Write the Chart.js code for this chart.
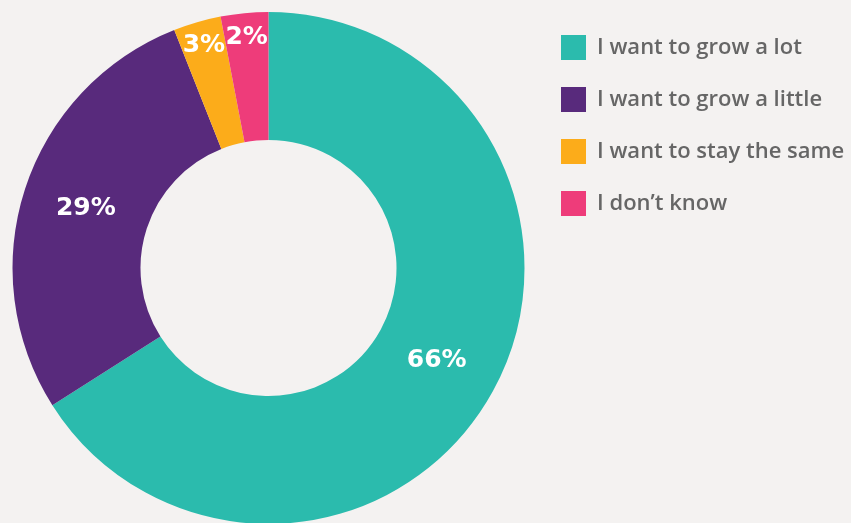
<!DOCTYPE html>
<html><head><meta charset="utf-8">
<script src="https://cdn.jsdelivr.net/npm/chart.js@4"></script>
<style>
html,body{margin:0;padding:0;background:#f4f2f1;overflow:hidden;}
#wrap{position:absolute;left:0;top:0;width:851px;height:540px;}
</style></head><body>
<div id="wrap"><canvas id="c"></canvas></div>
<script>
const categories = ["I want to grow a lot", "I want to grow a little", "I want to stay the same", "I don\u2019t know"];
const shares = [66, 28, 3, 3];
const shareLabels = ["66%", "29%", "3%", "2%"];
const colors = ["#2bbbad", "#582a7c", "#fcac1a", "#ee3c7a"];

const sliceLabels = {
  id: 'sliceLabels',
  afterDatasetsDraw(chart) {
    const ctx = chart.ctx;
    const meta = chart.getDatasetMeta(0);
    const total = shares.reduce((a, b) => a + b, 0);
    ctx.save();
    ctx.fillStyle = '#ffffff';
    ctx.font = 'bold 25px "DejaVu Sans"';
    ctx.textAlign = 'center';
    ctx.textBaseline = 'middle';
    meta.data.forEach((arc, i) => {
      const p = arc.getProps(['x', 'y', 'startAngle', 'endAngle', 'innerRadius', 'outerRadius'], true);
      const mid = (p.startAngle + p.endAngle) / 2;
      const small = shares[i] / total < 0.05;
      const r = small ? p.outerRadius * 0.905 : (p.innerRadius + p.outerRadius) / 2;
      ctx.fillText(shareLabels[i], p.x + Math.cos(mid) * r, p.y + Math.sin(mid) * r);
    });
    ctx.restore();
  }
};

function build() {
  new Chart(document.getElementById('c'), {
    type: 'doughnut',
    data: {
      labels: categories,
      datasets: [{
        data: shares,
        backgroundColor: colors,
        borderColor: colors,
        borderWidth: 0,
        hoverOffset: 0
      }]
    },
    options: {
      responsive: true,
      maintainAspectRatio: false,
      animation: false,
      radius: 256,
      cutout: 130,
      layout: { padding: { left: 3, right: 0, top: 8, bottom: 12 } },
      plugins: {
        tooltip: { enabled: false },
        legend: {
          position: 'right',
          align: 'start',
          maxWidth: 317,
          labels: {
            boxWidth: 25,
            boxHeight: 25,
            padding: 27,
            color: '#666666',
            font: { family: '"Open Sans"', size: 22, weight: '600' }
          }
        }
      }
    },
    plugins: [sliceLabels]
  });
}
if (document.fonts && document.fonts.load) {
  Promise.all([document.fonts.load('600 22px "Open Sans"'), document.fonts.load('bold 25px "DejaVu Sans"')]).then(build, build);
} else { build(); }
</script>
</body></html>
